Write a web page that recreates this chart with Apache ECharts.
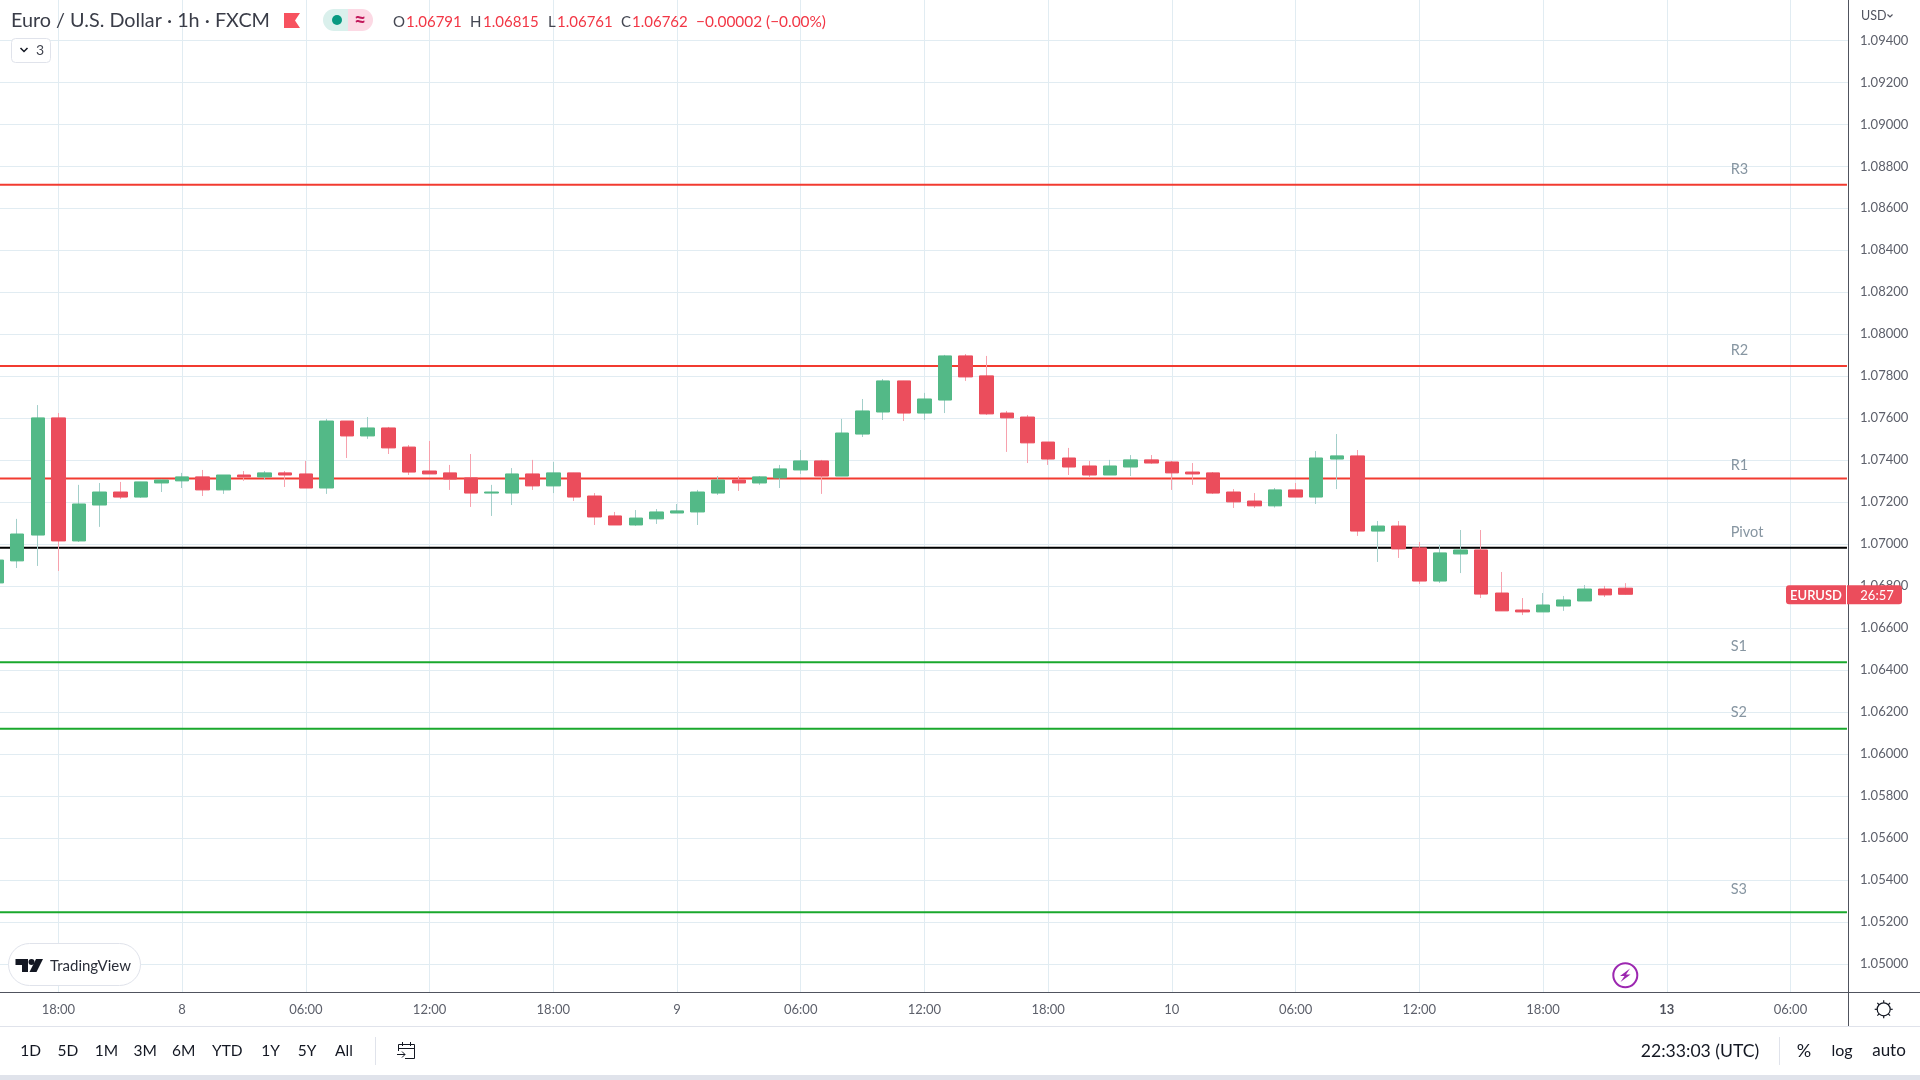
<!DOCTYPE html>
<html><head><meta charset="utf-8">
<style>html,body{margin:0;padding:0;background:#fff}#c{width:1920px;height:1080px}</style>
<script src="https://cdn.jsdelivr.net/npm/echarts@6/dist/echarts.min.js"></script>
</head><body><div id="c"></div>
<script>
// hour index relative to the first 18:00 candle
const hours = [-3,-2,-1,0,1,2,3,4,5,6,7,8,9,10,11,12,13,14,15,16,17,18,19,20,21,22,23,24,25,26,27,28,29,30,31,32,33,34,35,36,37,38,39,40,41,42,43,44,45,46,47,48,49,50,51,52,53,54,55,56,57,58,59,60,61,62,63,64,65,66,67,68,69,70,71,72,73,74,75,76];
const opens = [1.06816,1.06921,1.07044,1.07602,1.07016,1.07187,1.07249,1.07225,1.07292,1.07302,1.07321,1.07259,1.0733,1.07321,1.0734,1.07335,1.07268,1.07587,1.07516,1.07554,1.07463,1.07349,1.0734,1.07316,1.07244,1.07244,1.07335,1.07278,1.0734,1.0723,1.07135,1.07092,1.07121,1.07149,1.07154,1.07244,1.07306,1.07292,1.07316,1.07354,1.07397,1.07325,1.07525,1.0763,1.07778,1.07625,1.07687,1.07897,1.07802,1.07625,1.07606,1.07487,1.07411,1.07373,1.0733,1.07368,1.07402,1.07392,1.07344,1.0734,1.07249,1.07206,1.07183,1.07259,1.07225,1.07406,1.07421,1.07063,1.07087,1.06983,1.06825,1.06954,1.06973,1.06768,1.06687,1.06678,1.06706,1.0673,1.06787,1.06791];
const closes = [1.06925,1.07049,1.07602,1.07016,1.07192,1.07249,1.07225,1.07297,1.07306,1.07321,1.07259,1.0733,1.07321,1.0734,1.0733,1.07268,1.07587,1.07516,1.07554,1.07459,1.07344,1.07335,1.07311,1.07244,1.07249,1.07335,1.07278,1.0734,1.07225,1.0713,1.07092,1.07125,1.07154,1.07159,1.07249,1.07306,1.07292,1.07321,1.07359,1.07397,1.07325,1.0753,1.07635,1.07778,1.07625,1.07692,1.07897,1.07797,1.07621,1.07602,1.07483,1.07406,1.07368,1.0733,1.07373,1.07402,1.07387,1.0734,1.07335,1.07244,1.07202,1.07183,1.07259,1.07225,1.07411,1.07421,1.07063,1.07087,1.06978,1.06825,1.06959,1.06973,1.06763,1.06683,1.06678,1.06711,1.06735,1.06787,1.06759,1.06762];
const lows = [1.06805,1.06887,1.06897,1.06873,1.07011,1.07083,1.07216,1.07221,1.07249,1.07268,1.0723,1.0724,1.07302,1.07306,1.07273,1.07268,1.0724,1.07411,1.07502,1.0743,1.0733,1.07335,1.07259,1.07178,1.07135,1.07187,1.07259,1.07244,1.07206,1.07092,1.07092,1.07087,1.07097,1.07149,1.07092,1.07235,1.07254,1.07283,1.07268,1.07335,1.0724,1.07325,1.07511,1.07592,1.07587,1.07592,1.07625,1.07778,1.07616,1.0744,1.07387,1.07378,1.0733,1.07316,1.0733,1.07325,1.07383,1.07259,1.07283,1.0724,1.07173,1.07173,1.07175,1.07225,1.07192,1.07263,1.0704,1.06916,1.06935,1.06811,1.06816,1.06863,1.06744,1.06683,1.06663,1.06678,1.06683,1.0673,1.06749,1.06761];
const highs = [1.06935,1.07121,1.07663,1.07625,1.07283,1.07292,1.07297,1.07297,1.07311,1.0734,1.07354,1.0733,1.07349,1.07349,1.07349,1.07397,1.07597,1.07587,1.07606,1.07559,1.07473,1.07492,1.07378,1.0743,1.07283,1.07363,1.07402,1.07392,1.0734,1.07244,1.07154,1.07163,1.07168,1.07192,1.07259,1.07325,1.07325,1.07325,1.07378,1.07449,1.07402,1.07597,1.07692,1.07787,1.07778,1.07721,1.07902,1.07906,1.07897,1.07635,1.07616,1.07487,1.07459,1.07397,1.07402,1.07425,1.07425,1.07397,1.07387,1.07344,1.07263,1.07244,1.07268,1.07292,1.07444,1.07525,1.07449,1.07111,1.07111,1.07011,1.06997,1.07068,1.07068,1.06868,1.06744,1.06768,1.06754,1.06806,1.06802,1.06815];
const xTicks = [0,6,12,18,24,30,36,42,48,54,60,66,72,78,84];
const xTickLabels = ['18:00','8','06:00','12:00','18:00','9','06:00','12:00','18:00','10','06:00','12:00','18:00','{b|13}','06:00'];
const yTicks = [1.05,1.052,1.054,1.056,1.058,1.06,1.062,1.064,1.066,1.068,1.07,1.072,1.074,1.076,1.078,1.08,1.082,1.084,1.086,1.088,1.09,1.092,1.094];
const levelNames = ['R3','R2','R1','Pivot','S1','S2','S3'];
const levelValues = [1.08712,1.07849,1.07313,1.06984,1.06438,1.06122,1.05248];
const labelValues = [1.08787,1.07926,1.07378,1.07059,1.06512,1.06198,1.05359];
const rangeButtons = ['1D','5D','1M','3M','6M','YTD','1Y','5Y','All'];

const FONT = 'Lato, "Open Sans", sans-serif';
const GREEN='#53b987', RED='#eb4d5c', GREEN_W='#a3cfca', RED_W='#f7a1ad';
const xMin=-2.832, xMax=86.79, yMin=1.04868, yMax=1.09592;
const levelColors = ['#f23b30','#f23b30','#f23b30','#000000','#1aa82c','#1aa82c','#1aa82c'];
const labelX = 81.1;

const chart = echarts.init(document.getElementById('c'), null, {renderer:'canvas'});

const levelSeries = levelValues.map((v,i)=>({
  type:'line', name:levelNames[i], z:1, silent:true, symbol:'none',
  data:[[xMin,v],[xMax-0.05,v]], lineStyle:{color:levelColors[i],width:2}, animation:false
}));

function T(text,x,y,size,fill,extra){
  return {type:'text',z:50,style:{text,x,y,fill,font:(extra&&extra.weight?extra.weight+' ':'')+size+'px '+FONT,textVerticalAlign:'middle',textAlign:(extra&&extra.align)||'left'}};
}
function R(x,y,w,h,fill,extra){
  return {type:'rect',z:(extra&&extra.z)||40,shape:{x,y,width:w,height:h,r:(extra&&extra.r)||0},style:{fill,stroke:(extra&&extra.stroke)||null,lineWidth:1}};
}
function L(x1,y1,x2,y2,c,w){return {type:'line',z:45,shape:{x1,y1,x2,y2},style:{stroke:c,lineWidth:w||1}};}

const rangeX=[30.6,67.8,106.5,145.3,183.7,227.3,270.6,307,344];
const gears=[];
for(let i=0;i<8;i++){const a=i*Math.PI/4;gears.push(L(1883.7+Math.cos(a)*6.5,1009.3+Math.sin(a)*6.5,1883.7+Math.cos(a)*9,1009.3+Math.sin(a)*9,'#131722',1.2));}

const graphicEls=[
  L(0,992.5,1920,992.5,'#50535e',1),
  L(1848.5,992,1848.5,1026,'#50535e',1),
  L(0,1026.5,1920,1026.5,'#e0e3eb',1),
  R(0,1075,1920,5,'#e0e3eb'),
  L(375.5,1037,375.5,1065,'#e0e3eb',1),
  L(1779.5,1037,1779.5,1065,'#e0e3eb',1),
  T('Euro / U.S. Dollar · 1h · FXCM',11,21,19.8,'#3a3d48'),
  {type:'polygon',z:45,shape:{points:[[284,13],[300,13],[295,20.5],[300,28],[284,28]]},style:{fill:'#f7525f'}},
  {type:'rect',z:40,shape:{x:323,y:9,width:25,height:22,r:[11,0,0,11]},style:{fill:'#daf0ec'}},
  {type:'rect',z:40,shape:{x:348,y:9,width:25,height:22,r:[0,11,11,0]},style:{fill:'#fcd9e4'}},
  {type:'circle',z:45,shape:{cx:337,cy:20,r:5},style:{fill:'#089981'}},
  T('≈',360,20,21,'#c2185b',{align:'center',weight:'bold'}),
  T('O',393,22,15,'#434651'),T('1.06791',406,22,15,'#f23645'),
  T('H',470,22,15,'#434651'),T('1.06815',483,22,15,'#f23645'),
  T('L',548,22,15,'#434651'),T('1.06761',557,22,15,'#f23645'),
  T('C',621,22,15,'#434651'),T('1.06762',632,22,15,'#f23645'),
  T('−0.00002 (−0.00%)',696,22,15.4,'#f23645'),
  R(11.5,38.5,39,24,'#ffffff',{r:4,stroke:'#e0e3eb'}),
  {type:'polyline',z:45,shape:{points:[[20.5,48],[24,51.5],[27.5,48]]},style:{stroke:'#131722',lineWidth:1.5,fill:null}},
  T('3',40,50.5,14,'#434651',{align:'center'}),
  T('USD',1861,16,12.5,'#50535e'),
  {type:'polyline',z:45,shape:{points:[[1887.5,14.5],[1890,17],[1892.5,14.5]]},style:{stroke:'#50535e',lineWidth:1.2,fill:null}},
  R(8.5,943.5,132,42,'#ffffff',{r:21,stroke:'#e0e3eb'}),
  {type:'polygon',z:45,shape:{points:[[15.5,959],[28,959],[28,972],[22,972],[22,965],[15.5,965]]},style:{fill:'#131722'}},
  {type:'circle',z:45,shape:{cx:31.5,cy:962,r:3},style:{fill:'#131722'}},
  {type:'polygon',z:45,shape:{points:[[36,959],[43,959],[36.5,972],[29.5,972]]},style:{fill:'#131722'}},
  T('TradingView',50,966,15,'#2a2e39'),
  {type:'circle',z:45,shape:{cx:1625.3,cy:975.3,r:12},style:{fill:'#ffffff',stroke:'#9c27b0',lineWidth:2}},
  {type:'polygon',z:46,shape:{points:[[1630,968.5],[1620,976],[1624.5,976],[1620.5,982],[1630.5,974.5],[1626,974.5]]},style:{fill:'#9c27b0'}},
  {type:'circle',z:45,shape:{cx:1883.7,cy:1009.3,r:6.5},style:{fill:'#ffffff',stroke:'#131722',lineWidth:1.2}},
  ...gears,
  R(398.5,1044.5,16,14,'#ffffff',{stroke:'#131722'}),
  L(398,1048.5,415,1048.5,'#131722',1),L(402.5,1042,402.5,1046,'#131722',1),L(410.5,1042,410.5,1046,'#131722',1),
  R(396,1051,9,8,'#ffffff',{z:46}),
  {type:'line',z:47,shape:{x1:397,y1:1054.5,x2:405,y2:1054.5},style:{stroke:'#131722',lineWidth:1}},
  {type:'polyline',z:47,shape:{points:[[402,1051.5],[405,1054.5],[402,1057.5]]},style:{stroke:'#131722',lineWidth:1,fill:null}},
  ...rangeButtons.map((t,i)=>T(t,rangeX[i],1051,15.5,'#131722',{align:'center'})),
  T('22:33:03 (UTC)',1700,1051,17.6,'#131722',{align:'center'}),
  T('%',1804,1051,18,'#131722',{align:'center'}),
  T('log',1842,1051,16,'#131722',{align:'center'}),
  T('auto',1889,1051,17,'#131722',{align:'center'})
];

chart.setOption({
  animation:false,
  backgroundColor:'#ffffff',
  grid:{left:0,right:72,top:0,bottom:88,containLabel:false},
  xAxis:{type:'value',min:xMin,max:xMax,
    axisLine:{show:false},
    axisTick:{show:false,customValues:xTicks},
    splitLine:{show:true,lineStyle:{color:'#e1ecf2',width:1}},
    axisLabel:{customValues:xTicks,margin:11,fontFamily:FONT,fontSize:13,color:'#5d606b',
      formatter:(v)=>xTickLabels[xTicks.indexOf(v)]||'',
      rich:{b:{fontFamily:FONT,fontSize:13,fontWeight:'bold',color:'#50535e'}}}
  },
  yAxis:{type:'value',position:'right',min:yMin,max:yMax,scale:true,
    axisLine:{show:true,onZero:false,lineStyle:{color:'#50535e',width:1}},
    axisTick:{show:false,customValues:yTicks},
    splitLine:{show:true,lineStyle:{color:'#e1ecf2',width:1}},
    axisLabel:{customValues:yTicks,margin:12,padding:[4,0,0,0],fontFamily:FONT,fontSize:13,color:'#5d606b',
      formatter:(v)=>v.toFixed(5)}
  },
  series:[
    ...levelSeries,
    {type:'scatter',z:1,silent:true,symbolSize:0,
     data:labelValues.map((v,i)=>({name:levelNames[i],value:[labelX,v]})),
     label:{show:true,position:'right',distance:0,formatter:'{b}',fontFamily:FONT,fontSize:14.5,color:'#687a8a'}},
    {type:'candlestick',z:2,silent:true,barWidth:1,
     data:hours.map((h,i)=>[h,opens[i],closes[i],lows[i],highs[i]]),
     itemStyle:{color:GREEN_W,color0:RED_W,borderColor:GREEN_W,borderColor0:RED_W,borderWidth:1}},
    {type:'candlestick',z:3,silent:true,barWidth:14,
     data:hours.map((h,i)=>[h,opens[i],closes[i],Math.min(opens[i],closes[i]),Math.max(opens[i],closes[i])]),
     itemStyle:{color:GREEN,color0:RED,borderColor:GREEN,borderColor0:RED,borderWidth:1}}
  ],
  graphic:{elements:graphicEls}
});

// current-price tag follows the last close through the axis scale
const tagY = chart.convertToPixel({yAxisIndex:0}, closes[closes.length-1]);
chart.setOption({graphic:{elements:graphicEls.concat([
  R(1786,tagY-9,60,19,RED,{r:[3,0,0,3]}),
  R(1847,tagY-9,55,19,RED,{r:[0,3,3,0]}),
  T('EURUSD',1816,tagY+1.5,13,'#ffffff',{align:'center',weight:'600'}),
  T('26:57',1877,tagY+1.5,13,'#ffffff',{align:'center'})
])}});
</script></body></html>
